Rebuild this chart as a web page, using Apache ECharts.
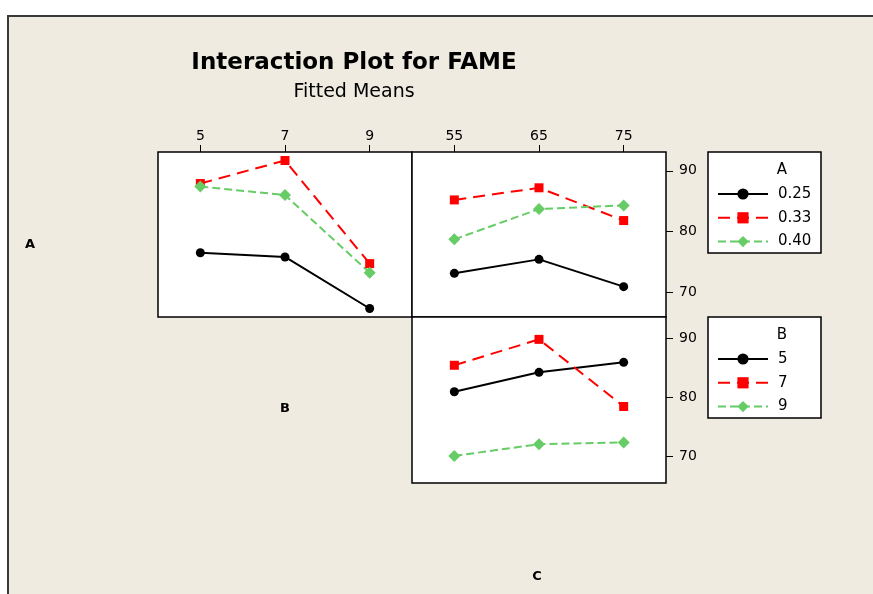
<!DOCTYPE html>
<html>
<head>
<meta charset="utf-8">
<script src="https://cdn.jsdelivr.net/npm/echarts@6/dist/echarts.min.js"></script>
<style>
  html, body { margin: 0; padding: 0; background: #fff; }
  #frame {
    position: absolute; left: 7px; top: 15px; width: 866px; height: 579px;
    background: #EFEBE1; border-top: 2px solid #3a3a3a; border-left: 2px solid #3a3a3a;
    box-sizing: border-box;
  }
  #chart { position: absolute; left: 0; top: 0; width: 873px; height: 594px; }
</style>
</head>
<body>
<div id="frame"></div>
<div id="chart"></div>
<script>
// Factor levels
const levelsA = ['0.25', '0.33', '0.40'];
const levelsB = ['5', '7', '9'];
const levelsC = ['55', '65', '75'];
const yTicks = [70, 80, 90];

// Fitted means, A x B (plotted against B)
const abA025 = [76.5, 75.8, 67.3];
const abA033 = [87.9, 91.7, 74.7];
const abA040 = [87.4, 86.0, 73.2];

// Fitted means, A x C (plotted against C)
const acA025 = [73.1, 75.4, 70.9];
const acA033 = [85.2, 87.2, 81.8];
const acA040 = [78.7, 83.7, 84.3];

// Fitted means, B x C (plotted against C)
const bcB5 = [80.9, 84.2, 85.9];
const bcB7 = [85.4, 89.8, 78.4];
const bcB9 = [70.0, 72.0, 72.3];

const FONT = '"DejaVu Sans", Verdana, sans-serif';

const styles = [
  { color: '#000000', symbol: 'circle', symbolSize: 9, type: 'solid' },
  { color: '#FF0000', symbol: 'rect', symbolSize: 9, type: [12, 7] },
  { color: '#66CC66', symbol: 'diamond', symbolSize: 12, type: [8, 4] }
];

function mkSeries(name, data, idx, xi, yi) {
  const s = styles[idx];
  return {
    type: 'line', name: name, data: data,
    xAxisIndex: xi, yAxisIndex: yi,
    symbol: s.symbol, symbolSize: s.symbolSize, showSymbol: true,
    itemStyle: { color: s.color },
    lineStyle: { color: s.color, width: 2, type: s.type },
    animation: false, silent: true
  };
}

const gridBase = { show: true, borderColor: '#000', borderWidth: 1.5, backgroundColor: '#fff' };

const tickLabel = { fontFamily: FONT, fontSize: 14, color: '#000' };

function topCatAxis(grid, data, showLabels) {
  return {
    type: 'category', gridIndex: grid, data: data, position: 'top', boundaryGap: true,
    axisLine: { show: false },
    axisTick: { show: showLabels, alignWithLabel: true, length: 7, lineStyle: { color: '#000', width: 1 } },
    axisLabel: Object.assign({ show: showLabels, margin: 9 }, tickLabel),
    splitLine: { show: false }
  };
}

function rightValAxis(grid, min, max, showLabels) {
  return {
    type: 'value', gridIndex: grid, position: 'right', min: min, max: max,
    axisLine: { show: false },
    axisTick: { show: showLabels, customValues: yTicks, length: 7, lineStyle: { color: '#000', width: 1 } },
    axisLabel: Object.assign({ show: showLabels, customValues: yTicks, margin: 13 }, tickLabel),
    splitLine: { show: false }
  };
}

const legendBase = {
  orient: 'vertical', left: 717, itemWidth: 50, itemHeight: 14, itemGap: 8.8, padding: 0,
  selectedMode: false,
  textStyle: { fontFamily: FONT, fontSize: 15, color: '#000', padding: [0, 0, 0, 5] }
};

const option = {
  backgroundColor: 'transparent',
  animation: false,
  grid: [
    Object.assign({ left: 158, top: 152, width: 254, height: 165 }, gridBase),
    Object.assign({ left: 412, top: 152, width: 254, height: 165 }, gridBase),
    Object.assign({ left: 412, top: 317, width: 254, height: 166 }, gridBase)
  ],
  xAxis: [
    topCatAxis(0, levelsB, true),
    topCatAxis(1, levelsC, true),
    topCatAxis(2, levelsC, false)
  ],
  yAxis: [
    rightValAxis(0, 65.9, 93.1, false),
    rightValAxis(1, 65.9, 93.1, true),
    rightValAxis(2, 65.4, 93.6, true)
  ],
  legend: [
    Object.assign({ top: 186.5, data: levelsA }, legendBase),
    Object.assign({ top: 351.5, data: levelsB }, legendBase)
  ],
  series: [
    mkSeries(levelsA[0], abA025, 0, 0, 0),
    mkSeries(levelsA[1], abA033, 1, 0, 0),
    mkSeries(levelsA[2], abA040, 2, 0, 0),
    mkSeries(levelsA[0], acA025, 0, 1, 1),
    mkSeries(levelsA[1], acA033, 1, 1, 1),
    mkSeries(levelsA[2], acA040, 2, 1, 1),
    mkSeries(levelsB[0], bcB5, 0, 2, 2),
    mkSeries(levelsB[1], bcB7, 1, 2, 2),
    mkSeries(levelsB[2], bcB9, 2, 2, 2)
  ],
  graphic: [
    { type: 'text', silent: true, x: 354, y: 63,
      style: { text: 'Interaction Plot for FAME', font: 'bold 23px ' + FONT, fill: '#000', align: 'center', verticalAlign: 'middle' } },
    { type: 'text', silent: true, x: 354, y: 92,
      style: { text: 'Fitted Means', font: '19px ' + FONT, fill: '#000', align: 'center', verticalAlign: 'middle' } },
    // legend frames and headings
    { type: 'rect', silent: true, shape: { x: 708, y: 152, width: 113, height: 101 },
      style: { fill: '#fff', stroke: '#000', lineWidth: 1.5 }, z: -1 },
    { type: 'rect', silent: true, shape: { x: 708, y: 317, width: 113, height: 101 },
      style: { fill: '#fff', stroke: '#000', lineWidth: 1.5 }, z: -1 },
    { type: 'text', silent: true, x: 782, y: 170,
      style: { text: 'A', font: '15px ' + FONT, fill: '#000', align: 'center', verticalAlign: 'middle' } },
    { type: 'text', silent: true, x: 782, y: 335,
      style: { text: 'B', font: '15px ' + FONT, fill: '#000', align: 'center', verticalAlign: 'middle' } },
    // factor labels of the matrix
    { type: 'text', silent: true, x: 30, y: 245,
      style: { text: 'A', font: 'bold 13px ' + FONT, fill: '#000', align: 'center', verticalAlign: 'middle' } },
    { type: 'text', silent: true, x: 285, y: 409,
      style: { text: 'B', font: 'bold 13px ' + FONT, fill: '#000', align: 'center', verticalAlign: 'middle' } },
    { type: 'text', silent: true, x: 537, y: 577,
      style: { text: 'C', font: 'bold 13px ' + FONT, fill: '#000', align: 'center', verticalAlign: 'middle' } }
  ]
};

const chart = echarts.init(document.getElementById('chart'), null, { renderer: 'canvas' });
chart.setOption(option);
</script>
</body>
</html>
